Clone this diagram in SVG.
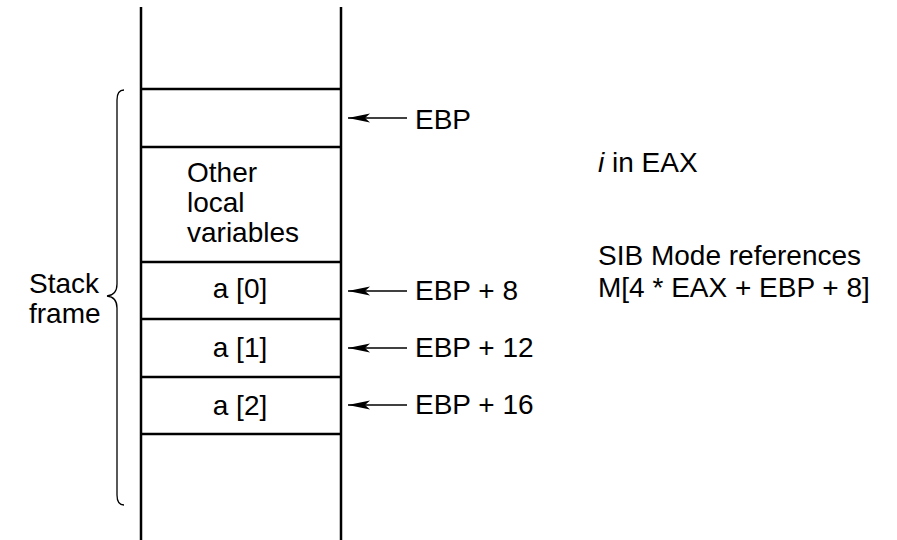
<svg xmlns="http://www.w3.org/2000/svg" width="897" height="540" viewBox="0 0 897 540">
<style>
text{font-family:"Liberation Sans",Arial,sans-serif;font-size:28px;fill:#000}
.col{stroke:#000;stroke-width:2.5;fill:none}
.arr{stroke:#000;stroke-width:1.5;fill:none;marker-end:url(#ah)}
.brace{stroke:#000;stroke-width:1.3;fill:none}
.mid{text-anchor:middle}
</style>
<defs>
<marker id="ah" markerWidth="22" markerHeight="10" refX="22" refY="5" orient="auto" markerUnits="userSpaceOnUse">
<path d="M0,0.5 L22,5 L0,9.5 L5,5 Z" fill="#000"/>
</marker>
</defs>
<rect width="897" height="540" fill="#fff"/>
<g id="stack">
<line class="col" x1="141" y1="7" x2="141" y2="540"/>
<line class="col" x1="341" y1="7" x2="341" y2="540"/>
</g>
<g id="cell-ebp"><line class="col" x1="141" y1="89" x2="341" y2="89"/></g>
<g id="cell-locals"><line class="col" x1="141" y1="147" x2="341" y2="147"/>
<text x="187" y="182">Other</text><text x="187" y="212">local</text><text x="187" y="242">variables</text></g>
<g id="cell-a0"><line class="col" x1="141" y1="262" x2="341" y2="262"/><text class="mid" x="240" y="298">a [0]</text></g>
<g id="cell-a1"><line class="col" x1="141" y1="319" x2="341" y2="319"/><text class="mid" x="240" y="357">a [1]</text></g>
<g id="cell-a2"><line class="col" x1="141" y1="377" x2="341" y2="377"/><text class="mid" x="240" y="415">a [2]</text></g>
<g id="cell-bottom"><line class="col" x1="141" y1="434" x2="341" y2="434"/></g>
<g id="stack-frame">
<path class="brace" d="M124,90 Q117,90 117,100 L117,284 Q117,295 107,296 Q117,297 117,308 L117,495 Q117,505 124,505"/>
<text x="29" y="293">Stack</text><text x="29" y="323">frame</text>
</g>
<g id="connectors">
<line class="arr" x1="407" y1="118" x2="348" y2="118"/>
<line class="arr" x1="407" y1="291" x2="348" y2="291"/>
<line class="arr" x1="407" y1="348" x2="348" y2="348"/>
<line class="arr" x1="407" y1="405" x2="348" y2="405"/>
</g>
<g id="labels">
<text x="415" y="129">EBP</text>
<text x="415" y="300">EBP + 8</text>
<text x="415" y="357">EBP + 12</text>
<text x="415" y="414">EBP + 16</text>
</g>
<g id="notes">
<text x="598" y="172"><tspan font-style="italic">i</tspan> in EAX</text>
<text x="598" y="265">SIB Mode references</text>
<text x="598" y="297">M[4 * EAX + EBP + 8]</text>
</g>
</svg>
